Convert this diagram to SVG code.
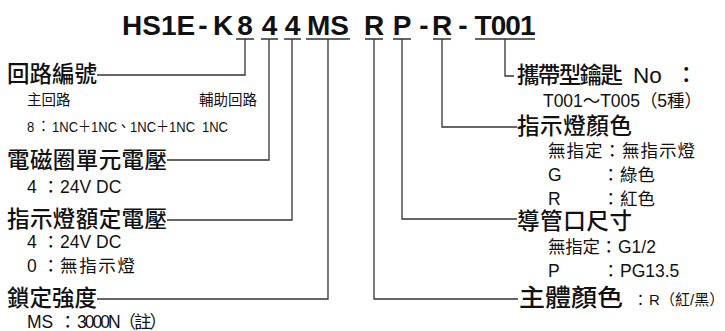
<svg xmlns="http://www.w3.org/2000/svg" width="725" height="331" viewBox="0 0 725 331">
<style>
.t{font-family:"Liberation Sans","Noto Sans CJK TC",sans-serif;fill:#111}
.title{font-size:28px;font-weight:bold;text-anchor:middle}
.lbl{font-size:22.5px;font-weight:500}
.sub{font-size:17.5px}
.sm{font-size:14.5px}
.ln{fill:none;stroke:#333;stroke-width:1.3}
</style>
<rect width="725" height="331" fill="#fff"/>
<g id="title" class="t title">
<text x="122" y="35" style="text-anchor:start">HS1E</text>
<text x="203" y="35">-</text>
<text x="223" y="35">K</text>
<text x="245" y="35">8</text>
<text x="269.5" y="35">4</text>
<text x="292.5" y="35">4</text>
<text x="328" y="35">MS</text>
<text x="374" y="35">R</text>
<text x="402" y="35">P</text>
<text x="424" y="35">-</text>
<text x="442" y="35">R</text>
<text x="463" y="35">-</text>
<text x="505" y="35" textLength="61">T001</text>
</g>
<g id="connectors" class="ln">
<path d="M236 39H254M261 39H278M284 39H301M306 39H350M365 39H383M393 39H411M433 39H451M475 39H535"/>
<path d="M245 39V75H97"/>
<path d="M269 39V160H167"/>
<path d="M292 39V220H167"/>
<path d="M328 39V299H97"/>
<path d="M374 39V299H518"/>
<path d="M402 39V219H517"/>
<path d="M442 39V127H517"/>
<path d="M505 39V76H514"/>
</g>
<g id="n-circuit" class="t">
<text class="lbl" x="7" y="82" textLength="90">回路編號</text>
<text class="sm" x="27" y="105">主回路</text>
<text class="sm" x="257" y="105" text-anchor="end">輔助回路</text>
<text style="font-size:15.5px" transform="translate(27 132) scale(0.84 1)"><tspan x="0" y="0">8</tspan><tspan x="11.9">：</tspan><tspan x="29.8">1NC＋1NC、1NC＋1NC</tspan><tspan x="208.3">1NC</tspan></text>
</g>
<g id="n-coil" class="t">
<text class="lbl" x="7" y="168" textLength="160">電磁圈單元電壓</text>
<text class="sub" y="193"><tspan x="27">4</tspan><tspan x="42">：</tspan><tspan x="60">24V DC</tspan></text>
</g>
<g id="n-lampv" class="t">
<text class="lbl" x="7" y="227" textLength="160">指示燈額定電壓</text>
<text class="sub" y="248"><tspan x="27">4</tspan><tspan x="42">：</tspan><tspan x="60">24V DC</tspan></text>
<text class="sub" y="272"><tspan x="27">0</tspan><tspan x="42">：</tspan><tspan x="60" textLength="75">無指示燈</tspan></text>
</g>
<g id="n-lock" class="t">
<text class="lbl" x="7" y="306" textLength="90">鎖定強度</text>
<text class="sub" y="328"><tspan x="27">MS</tspan><tspan x="59">：</tspan><tspan x="77" textLength="90">3000N（註）</tspan></text>
</g>
<g id="n-key" class="t">
<text class="lbl" x="517" y="83"><tspan textLength="106">攜帶型鑰匙</tspan><tspan x="633">No</tspan><tspan x="675">：</tspan></text>
<text class="sub" x="543" y="107" textLength="159">T001～T005（5種）</text>
</g>
<g id="n-lampc" class="t">
<text class="lbl" x="517" y="134" textLength="115">指示燈顏色</text>
<text class="sub" x="548" y="157" textLength="147">無指定：無指示燈</text>
<text class="sub" y="181"><tspan x="548">G</tspan><tspan x="602">：</tspan><tspan x="620">綠色</tspan></text>
<text class="sub" y="205"><tspan x="548">R</tspan><tspan x="602">：</tspan><tspan x="620">紅色</tspan></text>
</g>
<g id="n-conduit" class="t">
<text class="lbl" x="517" y="229" textLength="115">導管口尺寸</text>
<text class="sub" y="253"><tspan x="548" textLength="52">無指定</tspan><tspan x="600">：</tspan><tspan x="618">G1/2</tspan></text>
<text class="sub" y="277"><tspan x="548">P</tspan><tspan x="602">：</tspan><tspan x="620">PG13.5</tspan></text>
</g>
<g id="n-body" class="t">
<text class="lbl" x="519" y="306" style="font-size:24px" textLength="104" lengthAdjust="spacingAndGlyphs">主體顏色</text>
<text style="font-size:15px" y="305"><tspan x="633">：</tspan><tspan x="649">R</tspan><tspan x="660">（紅/黑）</tspan></text>
</g>
</svg>
